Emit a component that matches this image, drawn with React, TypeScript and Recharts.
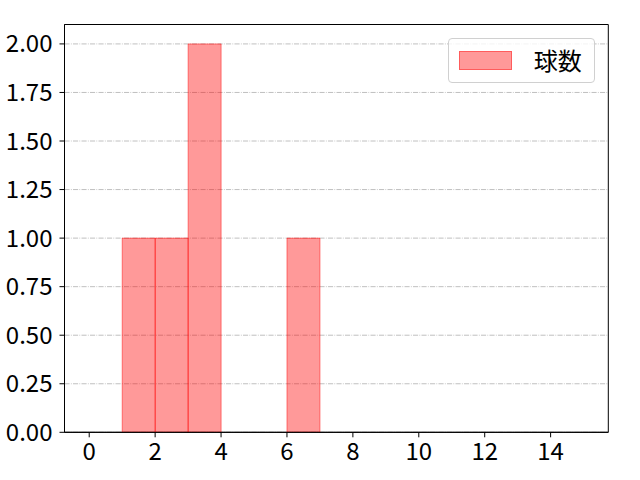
import React from "react";
import {
  ComposedChart,
  Bar,
  XAxis,
  YAxis,
  CartesianGrid,
  ReferenceArea,
} from "recharts";

const binStarts = [0, 1, 2, 3, 4, 5, 6, 7, 8, 9, 10, 11, 12, 13, 14];
const counts = [0, 1, 1, 2, 0, 0, 1, 0, 0, 0, 0, 0, 0, 0, 0];
const xTicks = [0, 2, 4, 6, 8, 10, 12, 14];
const yTicks = [0, 0.25, 0.5, 0.75, 1, 1.25, 1.5, 1.75, 2];
const seriesName = "球数";

const data = binStarts.map((b, i) => ({ bin: b, center: b + 0.5, count: counts[i] }));

const FONT = "'Noto Sans CJK JP', 'Noto Sans', sans-serif";
const TICK_FONT = 24;

// matplotlib-style legend box, top right inside the axes
const LegendBox = () => (
  <div
    style={{
      position: "absolute",
      left: 447.7,
      top: 37.7,
      width: 147,
      height: 45,
      boxSizing: "border-box",
      border: "1px solid #d0d0d0",
      borderRadius: 4,
      background: "rgba(255,255,255,0.8)",
      display: "flex",
      alignItems: "center",
      fontFamily: FONT,
      fontSize: 24,
    }}
  >
    <div
      style={{
        marginLeft: 10,
        width: 53,
        height: 19,
        boxSizing: "border-box",
        background: "rgba(255,0,0,0.4)",
        border: "1px solid rgba(255,0,0,0.4)",
      }}
    />
    <span style={{ marginLeft: 22, color: "#000", lineHeight: 1 }}>{seriesName}</span>
  </div>
);

export default function App() {
  return (
    <div style={{ position: "absolute", left: 0, top: 0, width: 640, height: 480, background: "#fff" }}>
      <ComposedChart
        width={640}
        height={480}
        data={data}
        barCategoryGap={0}
        margin={{ top: 24.5, right: 31.7, bottom: 0, left: 0 }}
        style={{ fontFamily: FONT }}
      >
        <CartesianGrid
          xAxisId="num"
          vertical={false}
          stroke="#b0b0b0"
          strokeWidth={0.8}
          strokeDasharray="5.1 1.3 0.8 1.3"
        />
        <XAxis
          xAxisId="cat"
          dataKey="bin"
          type="category"
          hide
          height={0}
          padding={{ left: 24.75, right: 24.75 }}
        />
        <XAxis
          xAxisId="num"
          dataKey="center"
          type="number"
          domain={[-0.75, 15.75]}
          ticks={xTicks}
          allowDataOverflow
          height={47.7}
          stroke="#000"
          tickSize={5}
          tickMargin={6}
          fontSize={TICK_FONT}
          tick={{ fill: "#000", fontSize: TICK_FONT }}
        />
        <YAxis
          domain={[0, 2.1]}
          ticks={yTicks}
          width={64.5}
          stroke="#000"
          tickSize={5}
          tickMargin={7}
          fontSize={TICK_FONT}
          tick={{ fill: "#000", fontSize: TICK_FONT }}
          tickFormatter={(v: number) => v.toFixed(2)}
          allowDataOverflow
        />
        <Bar
          xAxisId="cat"
          dataKey="count"
          name={seriesName}
          fill="#ff0000"
          fillOpacity={0.4}
          stroke="#ff0000"
          strokeOpacity={0.45}
          strokeWidth={1}
          isAnimationActive={false}
        />
        <ReferenceArea
          xAxisId="num"
          x1={-0.75}
          x2={15.75}
          y1={0}
          y2={2.1}
          fill="none"
          stroke="#000"
          strokeWidth={1}
          ifOverflow="visible"
        />
      </ComposedChart>
      <LegendBox />
    </div>
  );
}
